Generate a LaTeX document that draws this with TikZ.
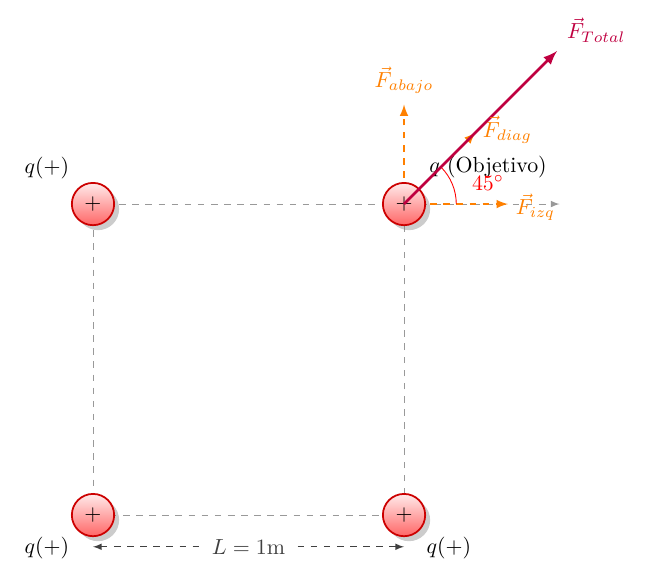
\documentclass[tikz,border=0pt]{standalone}
\usepackage{amsmath}
\usetikzlibrary{shadows}

\begin{document}
\begin{tikzpicture}[scale=1,
    carga/.style={circle, draw=red!80!black, thick, minimum size=0.68cm, inner sep=0pt,
        top color=red!8, bottom color=red!60, drop shadow={opacity=0.4, shadow xshift=0.08cm, shadow yshift=-0.08cm}},
    guia/.style={gray!80, dashed},
    fuerza/.style={orange, thick, dashed, ->, >=latex}]
    \useasboundingbox (-1.495,-1.125) rectangle (8.89,8.28);

    \coordinate (q1) at (0,5);
    \coordinate (q2) at (5,5);
    \coordinate (q3) at (0,0);
    \coordinate (q4) at (5,0);
    \coordinate (eje) at (7.5,5);
    \coordinate (fab) at (5,6.6);
    \coordinate (fiz) at (6.67,5);
    \coordinate (fdi) at (6.15,6.15);
    \coordinate (ftot) at (7.46,7.46);
    \coordinate (dimA) at (0,-0.51);
    \coordinate (dimB) at (5,-0.51);

    % cuadrado
    \draw[guia, ->, >=latex] (q1) -- (eje);
    \draw[guia] (q1) -- (q3) -- (q4) -- (q2);

    % fuerzas parciales
    \draw[fuerza] (q2) -- (fab);
    \draw[fuerza] (q2) -- (fiz);
    \draw[fuerza] (q2) -- (fdi);
    \draw[red] (q2) ++(0.84,0) arc (0:45:0.84);

    % cargas
    \node[carga] (c1) at (q1) {$+$};
    \node[carga] (c2) at (q2) {$+$};
    \node[carga] (c3) at (q3) {$+$};
    \node[carga] (c4) at (q4) {$+$};

    \node (l1) at (-0.74,5.58) {\(q(+)\)};
    \node (l3) at (-0.74,-0.53) {\(q(+)\)};
    \node (l4) at (5.72,-0.53) {\(q(+)\)};
    \node (obj) at (6.35,5.6) {\(q\) (Objetivo)};

    % fuerza total
    \draw[purple, very thick, ->, >=latex] (q2) -- (ftot);

    \node[red] (ang) at (6.35,5.34) {\(45^\circ\)};
    \node[orange] (lab) at (5,6.99) {\(\vec{F}_{abajo}\)};
    \node[orange] (liz) at (7.11,4.95) {\(\vec{F}_{izq}\)};
    \node[orange] (ldi) at (6.66,6.19) {\(\vec{F}_{diag}\)};
    \node[purple] (ltot) at (8.09,7.8) {\(\vec{F}_{Total}\)};

    % distancia
    \draw[darkgray, dashed, <->, >=latex] (dimA) -- node[fill=white, text=darkgray] (dist) {\(L = 1\)m} (dimB);
\end{tikzpicture}
\end{document}
